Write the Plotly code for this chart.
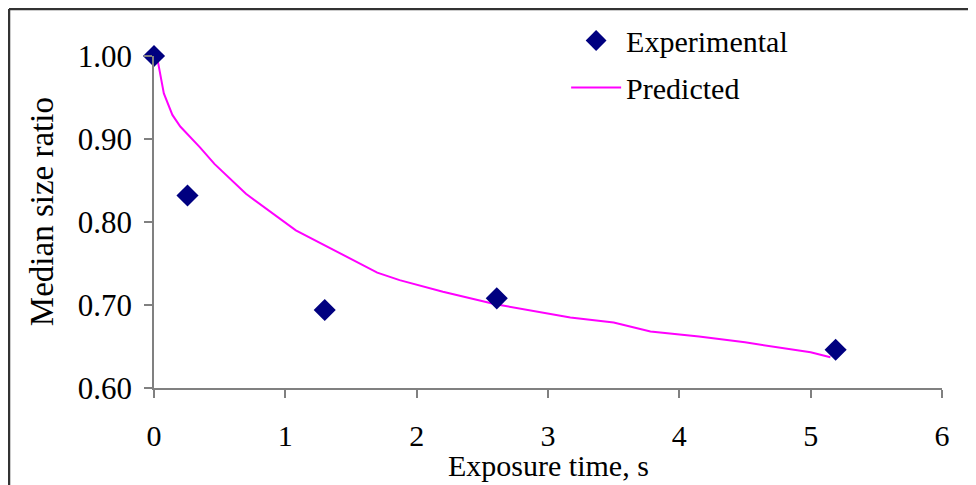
import plotly.graph_objects as go

# experimental points
exp_time = [0, 0.255, 1.30, 2.61, 5.19]
exp_ratio = [1.00, 0.832, 0.694, 0.708, 0.646]

# predicted curve
pred_time = [0.0, 0.03, 0.075, 0.14, 0.2, 0.35, 0.46, 0.7, 1.08, 1.5, 1.7, 1.87,
             2.2, 2.6, 3.17, 3.5, 3.78, 4.15, 4.5, 5.0, 5.15]
pred_ratio = [1.0, 0.993, 0.955, 0.929, 0.915, 0.890, 0.870, 0.834, 0.790, 0.756, 0.739, 0.730,
              0.716, 0.701, 0.685, 0.679, 0.668, 0.662, 0.655, 0.643, 0.637]

x_ticks = [0, 1, 2, 3, 4, 5, 6]
y_ticks = [0.6, 0.7, 0.8, 0.9, 1.0]

serif = "Times New Roman, Liberation Serif, serif"

fig = go.Figure()

fig.add_trace(go.Scatter(x=pred_time, y=pred_ratio, mode="lines", name="Predicted",
                         legendgroup="b", legendrank=2, line=dict(color="#FF00FF", width=2)))
fig.add_trace(go.Scatter(x=exp_time, y=exp_ratio, mode="markers", name="Experimental",
                         legendgroup="a", legendrank=1,
                         marker=dict(symbol="diamond", size=17, color="#000080"),
                         cliponaxis=False))

# page body has an 8px margin, so the figure is 8px smaller each way
fig.update_layout(
    width=968, height=477,
    margin=dict(l=146, r=34, t=48, b=97, autoexpand=False),
    paper_bgcolor="white", plot_bgcolor="white",
    font=dict(family=serif, size=30, color="black"),
    showlegend=True,
    legend=dict(x=0.523, y=1.125, xanchor="left", yanchor="top", traceorder="grouped",
                tracegroupgap=5, itemwidth=50, bgcolor="rgba(0,0,0,0)",
                font=dict(family=serif, size=30)),
)

fig.update_xaxes(range=[0, 6], tickvals=x_ticks, showgrid=False, zeroline=False,
                 showline=True, linecolor="#808080", linewidth=1.5,
                 ticks="outside", ticklen=8, tickcolor="#808080", tickwidth=1.5,
                 ticklabelstandoff=12, tickfont=dict(family=serif, size=30))
fig.update_yaxes(range=[0.6, 1.0], tickvals=y_ticks, tickformat=".2f", showgrid=False,
                 zeroline=False, showline=True, linecolor="#808080", linewidth=1.5,
                 ticks="outside", ticklen=8, tickcolor="#808080", tickwidth=1.5,
                 ticklabelstandoff=6, tickfont=dict(family=serif, size=31))

# axis titles placed as annotations so they can sit close to the tick labels
fig.add_annotation(text="Exposure time, s", xref="paper", yref="paper", x=0.5, y=-0.232,
                   xanchor="center", yanchor="middle", showarrow=False,
                   font=dict(family=serif, size=30))
fig.add_annotation(text="Median size ratio", xref="paper", yref="paper", x=-0.142, y=0.53,
                   xanchor="center", yanchor="middle", textangle=-90, showarrow=False,
                   font=dict(family=serif, size=33))

# outer frame (left and top edges visible)
fig.add_shape(type="line", xref="paper", yref="paper", x0=-0.184, x1=-0.184, y0=-0.5, y1=1.1416,
              line=dict(color="#333333", width=2.5))
fig.add_shape(type="line", xref="paper", yref="paper", x0=-0.184, x1=1.2, y0=1.1416, y1=1.1416,
              line=dict(color="#333333", width=2.5))

fig.write_html("out.html")
